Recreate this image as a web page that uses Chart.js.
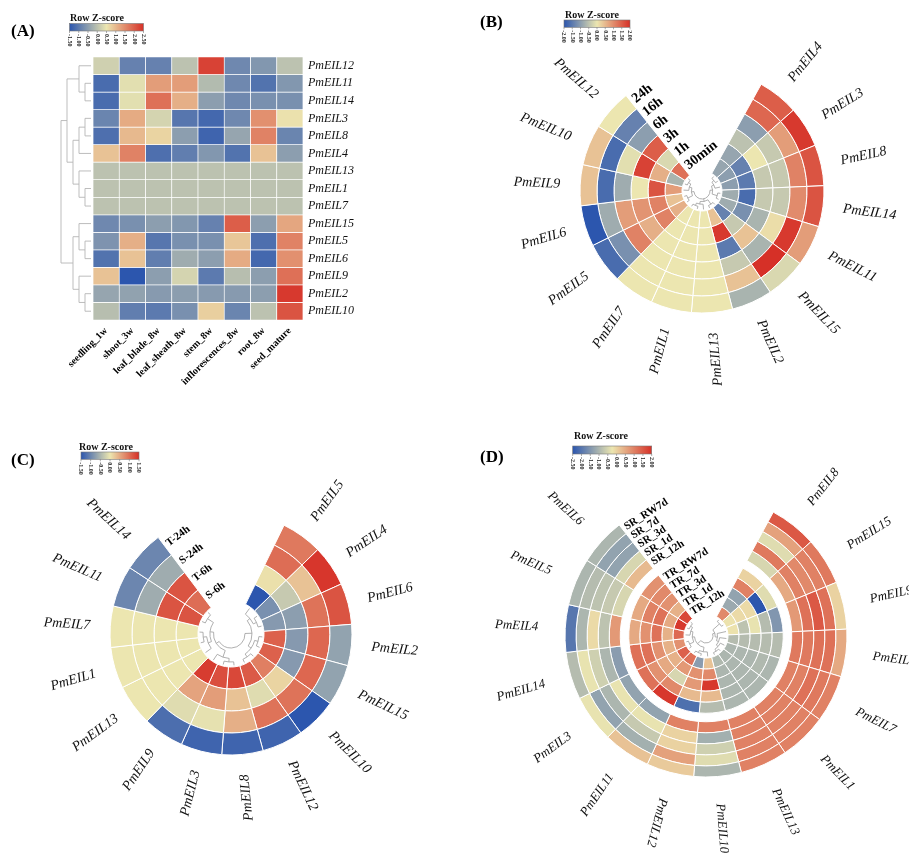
<!DOCTYPE html>
<html>
<head>
<meta charset="utf-8">
<script src="https://cdn.jsdelivr.net/npm/chart.js@4.4.1/dist/chart.umd.min.js"></script>
<style>
  body { margin: 0; background: #fff; }
  #wrap { position: relative; width: 909px; height: 854px; overflow: hidden; }
  canvas { position: absolute; }
</style>
</head>
<body>
<div id="wrap">
  <canvas id="pa" width="470" height="430" style="left:0;top:0"></canvas>
  <canvas id="pb" width="439" height="430" style="left:470px;top:0"></canvas>
  <canvas id="pc" width="470" height="424" style="left:0;top:430px"></canvas>
  <canvas id="pd" width="439" height="424" style="left:470px;top:430px"></canvas>
</div>
<script>
var SERIF = '"Liberation Serif", "Times New Roman", serif';

// ---------- (A) tissues ----------
var aTissues = ['seedling_1w', 'shoot_3w', 'leaf_blade_8w', 'leaf_sheath_8w', 'stem_8w', 'inflorescences_8w', 'root_8w', 'seed_mature'];
var aGenes = ['PmEIL12', 'PmEIL11', 'PmEIL14', 'PmEIL3', 'PmEIL8', 'PmEIL4', 'PmEIL13', 'PmEIL1', 'PmEIL7', 'PmEIL15', 'PmEIL5', 'PmEIL6', 'PmEIL9', 'PmEIL2', 'PmEIL10'];
var aZ = [
  [0.2, -0.9, -0.9, 0.0, 2.3, -0.8, -0.6, 0.0],
  [-1.2, 0.4, 1.3, 1.3, -0.1, -0.8, -1.1, -0.6],
  [-1.2, 0.4, 1.8, 1.1, -0.5, -0.8, -0.7, -0.7],
  [-0.85, 1.15, 0.25, -1.05, -1.25, -0.8, 1.45, 0.55],
  [-1.15, 1.0, 0.7, -0.5, -1.3, -0.4, 1.6, -0.85],
  [0.9, 1.6, -1.15, -0.95, -0.6, -1.1, 0.9, -0.5],
  [0, 0, 0, 0, 0, 0, 0, 0],
  [0, 0, 0, 0, 0, 0, 0, 0],
  [0, 0, 0, 0, 0, 0, 0, 0],
  [-0.8, -0.7, -0.5, -0.6, -0.9, 2.0, -0.5, 1.2],
  [-0.65, 1.1, -1.05, -0.7, -0.7, 0.85, -1.15, 1.6],
  [-1.1, 0.9, -0.95, -0.3, -0.5, 1.15, -1.25, 1.45],
  [0.9, -1.5, -0.5, 0.25, -1.0, -0.05, -0.5, 1.8],
  [-0.4, -0.45, -0.55, -0.5, -0.55, -0.55, -0.5, 2.4],
  [-0.05, -0.95, -1.0, -0.7, 0.75, -0.85, 0.0, 2.1]
];
var aTicks = [-1.5, -1.0, -0.5, 0.0, 0.5, 1.0, 1.5, 2.0, 2.5];
var aTree = [[[0, [1, 2]], [[[3, 4], 5], [6, [7, 8]]]], [[9, [10, 11]], [12, [13, 14]]]];

// ---------- (B) time course ----------
var bGenes = ['PmEIL4', 'PmEIL3', 'PmEIL8', 'PmEIL14', 'PmEIL11', 'PmEIL15', 'PmEIL2', 'PmEIL13', 'PmEIL1', 'PmEIL7', 'PmEIL5', 'PmEIL6', 'PmEIL9', 'PmEIL10', 'PmEIL12'];
var bTimes = ['30min', '1h', '3h', '6h', '16h', '24h'];
var bZ = [
  [-0.9, -0.9, -0.5, -1.0, 1.4, 1.5],
  [-1.0, -1.4, 0.0, -0.4, 0.8, 1.9],
  [-1.0, -1.5, -0.4, -0.4, 1.1, 1.6],
  [-0.8, -1.7, -0.4, -0.4, 1.0, 1.6],
  [-0.8, -1.2, -0.7, 0.1, 1.9, 0.8],
  [-1.4, -0.4, 0.4, -0.7, 2.0, -0.2],
  [0.4, 1.9, -1.5, -0.4, 0.4, -0.7],
  [0, 0, 0, 0, 0, 0],
  [0, 0, 0, 0, 0, 0],
  [0, 0, 0, 0, 0, 0],
  [0.6, 1.1, 0.6, 1.1, -1.2, -1.7],
  [0.4, 1.1, 0.9, 0.8, -0.8, -2.0],
  [0.8, 1.6, 0.0, -0.8, -1.7, 0.4],
  [-0.7, 0.6, 1.8, -0.1, -1.7, 0.4],
  [1.3, -0.2, 1.5, -1.0, -1.4, 0.0]
];
var bTicks = [-2.0, -1.5, -1.0, -0.5, 0.0, 0.5, 1.0, 1.5, 2.0];
var bTree = [[[[0, 1], 2], [3, 4]], [[5, 6], [7, [8, 9]]], [[10, 11], [12, [13, 14]]]];

// ---------- (C) S / T treatments ----------
var cGenes = ['PmEIL5', 'PmEIL4', 'PmEIL6', 'PmEIL2', 'PmEIL15', 'PmEIL10', 'PmEIL12', 'PmEIL8', 'PmEIL3', 'PmEIL9', 'PmEIL13', 'PmEIL1', 'PmEIL7', 'PmEIL11', 'PmEIL14'];
var cConds = ['S-6h', 'T-6h', 'S-24h', 'T-24h'];
var cZ = [
  [-1.5, 0.05, 1.0, 0.9],
  [-0.9, -0.3, 0.3, 1.45],
  [-0.8, -0.75, 0.95, 1.2],
  [1.1, -0.8, 1.05, -0.7],
  [1.1, -0.8, 1.05, -0.7],
  [0.85, 0.15, 0.95, -1.5],
  [1.15, -0.1, 0.95, -1.35],
  [1.3, 0.3, 0.45, -1.35],
  [1.25, 0.6, -0.05, -1.35],
  [1.4, 0.55, -0.1, -1.25],
  [0, 0, 0, 0],
  [0, 0, 0, 0],
  [0, 0, 0, 0],
  [1.2, 1.2, -0.6, -1.0],
  [1.0, 1.2, -0.6, -1.0]
];
var cTicks = [-1.5, -1.0, -0.5, 0.0, 0.5, 1.0, 1.5];
var cTree = [[[0, [1, 2]], [[3, 4], [5, 6]]], [[[7, 8], 9], [[10, [11, 12]], [13, 14]]]];

// ---------- (D) TR / SR ----------
var dGenes = ['PmEIL8', 'PmEIL15', 'PmEIL9', 'PmEIL2', 'PmEIL7', 'PmEIL1', 'PmEIL13', 'PmEIL10', 'PmEIL12', 'PmEIL11', 'PmEIL3', 'PmEIL14', 'PmEIL4', 'PmEIL5', 'PmEIL6'];
var dConds = ['TR_12h', 'TR_1d', 'TR_3d', 'TR_7d', 'TR_RW7d', 'SR_12h', 'SR_1d', 'SR_3d', 'SR_7d', 'SR_RW7d'];
var dZ = [
  [0.9, -1.2, -1.3, 1.0, 0.0, -0.5, 1.1, -0.4, 0.6, 1.5],
  [-0.2, -0.1, -0.1, -2.5, -0.4, 0.5, 1.0, 0.9, 1.0, 1.1],
  [-0.2, -0.8, -0.3, -0.9, -1.5, 0.7, 1.2, 1.5, 1.2, 0.0],
  [-0.9, -0.9, -0.9, -0.9, -0.9, 1.1, 1.1, 1.2, 1.2, 0.5],
  [-1.0, -1.0, -1.0, -0.95, -1.0, 1.0, 1.0, 1.2, 1.1, 1.0],
  [-1.0, -1.0, -1.0, -1.0, -1.0, 1.0, 1.0, 1.0, 1.0, 1.0],
  [-0.95, -1.0, -1.0, -1.0, -1.0, 1.0, 1.0, 1.0, 1.0, 1.0],
  [0.2, 0.9, 1.9, 0.3, -0.9, 1.0, -1.1, -0.6, -0.4, -1.0],
  [-1.4, 0.8, 0.7, 0.3, -2.1, 1.0, 0.0, 0.0, 0.6, 0.1],
  [1.2, 0.7, -0.5, 0.9, 1.9, -1.3, -0.3, -0.7, -1.1, 0.2],
  [1.4, 0.4, 0.5, 0.8, 1.2, -1.3, -0.3, -1.0, -1.3, -0.3],
  [0.8, 0.4, 0.8, 1.2, 1.2, -1.4, -1.0, -0.6, -0.3, -0.9],
  [1.3, 0.4, 1.2, 0.8, 0.5, 0.7, -0.8, -0.1, -1.0, -2.0],
  [1.9, 0.5, 1.2, 1.0, 0.5, -0.5, -0.7, -0.8, -0.9, -1.0],
  [1.7, 0.4, 0.8, 0.9, 0.8, 0.3, -0.5, -1.3, -1.3, -1.0]
];
var dTicks = [-2.5, -2.0, -1.5, -1.0, -0.5, 0.0, 0.5, 1.0, 1.5, 2.0];
var dTree = [[[0, 1], [2, [3, [4, [5, 6]]]]], [[7, [8, 9]], [[10, 11], [12, [13, 14]]]]];

// ---------- colours ----------
var LOW = [44, 86, 174], MID = [236, 230, 176], HIGH = [214, 48, 39];
function zColor(v, min, max) {
  var mid = (min + max) / 2, t, b;
  if (v <= mid) { t = (mid - v) / (mid - min); b = LOW; }
  else { t = (v - mid) / (max - mid); b = HIGH; }
  t = Math.max(0, Math.min(1, t));
  return 'rgb(' + MID.map(function (c, i) { return Math.round(c + (b[i] - c) * t); }).join(',') + ')';
}

Chart.defaults.font.family = SERIF;
Chart.defaults.color = '#000';

function drawLetter(ctx, txt, x, y) {
  ctx.save();
  ctx.font = 'bold 17px ' + SERIF;
  ctx.fillStyle = '#000';
  ctx.textAlign = 'left';
  ctx.textBaseline = 'alphabetic';
  ctx.fillText(txt, x, y);
  ctx.restore();
}

function drawLegend(ctx, L) {
  ctx.save();
  ctx.font = 'bold 10px ' + SERIF;
  ctx.fillStyle = '#111';
  ctx.textAlign = 'left';
  ctx.textBaseline = 'alphabetic';
  ctx.fillText('Row Z-score', L.tx, L.ty);
  var g = ctx.createLinearGradient(L.x, 0, L.x + L.w, 0);
  g.addColorStop(0, zColor(L.min, L.min, L.max));
  g.addColorStop(0.5, zColor((L.min + L.max) / 2, L.min, L.max));
  g.addColorStop(1, zColor(L.max, L.min, L.max));
  ctx.fillStyle = g;
  ctx.fillRect(L.x, L.y, L.w, L.h);
  ctx.strokeStyle = '#777';
  ctx.lineWidth = 0.6;
  ctx.strokeRect(L.x, L.y, L.w, L.h);
  ctx.font = 'bold 6px ' + SERIF;
  ctx.fillStyle = '#222';
  ctx.textBaseline = 'middle';
  L.ticks.forEach(function (v) {
    var x = L.x + (v - L.min) / (L.max - L.min) * L.w;
    ctx.beginPath();
    ctx.moveTo(x, L.y + L.h);
    ctx.lineTo(x, L.y + L.h + 2);
    ctx.stroke();
    ctx.save();
    ctx.translate(x, L.y + L.h + 3);
    ctx.rotate(Math.PI / 2);
    ctx.fillText(v.toFixed(2), 0, 0);
    ctx.restore();
  });
  ctx.restore();
}

function treeHeight(n) {
  if (typeof n === 'number') return 0;
  return 1 + Math.max.apply(null, n.map(treeHeight));
}
function walkTree(n, leafPos, onNode) {
  if (typeof n === 'number') return { t: leafPos(n), h: 0 };
  var kids = n.map(function (c) { return walkTree(c, leafPos, onNode); });
  var h = 1 + Math.max.apply(null, kids.map(function (k) { return k.h; }));
  onNode(kids, h);
  return { t: (kids[0].t + kids[kids.length - 1].t) / 2, h: h };
}

// ---------- (A) heatmap ----------
var aMin = -1.5, aMax = 2.5;
var aDecor = {
  id: 'aDecor',
  afterDraw: function (chart) {
    var ctx = chart.ctx, ys = chart.scales.y, area = chart.chartArea;
    var x0 = area.left - 2, unit = 6;
    ctx.save();
    ctx.strokeStyle = '#b5b5b5';
    ctx.lineWidth = 0.9;
    walkTree(aTree, function (i) { return ys.getPixelForValue(i + 0.5); }, function (kids, h) {
      var x = x0 - h * unit;
      ctx.beginPath();
      kids.forEach(function (k) {
        ctx.moveTo(x0 - k.h * unit, k.t);
        ctx.lineTo(x, k.t);
      });
      ctx.moveTo(x, kids[0].t);
      ctx.lineTo(x, kids[kids.length - 1].t);
      ctx.stroke();
    });
    ctx.restore();
    drawLetter(ctx, '(A)', 11, 36);
    drawLegend(ctx, { tx: 70, ty: 21, x: 69.5, y: 23.5, w: 74, h: 7.5, min: aMin, max: aMax, ticks: aTicks });
  }
};

new Chart(document.getElementById('pa'), {
  type: 'bar',
  data: {
    labels: aTissues,
    datasets: aGenes.map(function (g, i) {
      return {
        label: g,
        data: aTissues.map(function () { return 1; }),
        backgroundColor: aZ[i].map(function (v) { return zColor(v, aMin, aMax); }),
        borderColor: 'rgba(255,255,255,0.95)',
        borderWidth: 0.7,
        borderSkipped: false,
        barPercentage: 1,
        categoryPercentage: 1
      };
    })
  },
  options: {
    responsive: false,
    animation: false,
    events: [],
    layout: { padding: { left: 93, top: 57, right: 107, bottom: 30 } },
    plugins: { legend: { display: false }, tooltip: { enabled: false } },
    scales: {
      x: {
        stacked: true,
        grid: { display: false, drawTicks: false },
        border: { display: false },
        ticks: { autoSkip: false, minRotation: 45, maxRotation: 45, padding: 5, color: '#000', font: { family: SERIF, weight: 'bold', size: 10 } },
        afterFit: function (s) { s.height = 80; }
      },
      y: { stacked: true, min: 0, max: 15, reverse: true, display: false },
      y2: {
        type: 'category',
        labels: aGenes,
        position: 'right',
        offset: true,
        grid: { display: false, drawTicks: false },
        border: { display: false },
        ticks: { autoSkip: false, padding: 5, color: '#111', font: { family: SERIF, style: 'italic', size: 12 } },
        afterFit: function (s) { s.width = 60; }
      }
    }
  },
  plugins: [aDecor]
});

// ---------- circular heatmaps ----------
function ringChart(id, p) {
  var ringW = (p.radius - p.hole - (p.gapSize || 0)) / p.conds.length;
  var datasets = [];
  for (var j = p.conds.length - 1; j >= 0; j--) {
    datasets.push({
      ringName: p.conds[j],
      data: p.genes.map(function () { return 1; }),
      backgroundColor: p.z.map(function (r) { return zColor(r[j], p.min, p.max); }),
      borderColor: '#ffffff',
      borderWidth: 1,
      rotation: p.rotation,
      circumference: p.circumference,
      weight: 1
    });
    if (p.gapAt === j) {
      datasets.push({ data: [1], backgroundColor: 'rgba(0,0,0,0)', borderWidth: 0, rotation: 0, circumference: 360, weight: p.gapSize / ringW });
    }
  }
  datasets.push({ data: [1], backgroundColor: 'rgba(0,0,0,0)', borderWidth: 0, rotation: 0, circumference: 360, weight: p.hole / ringW });

  var cv = document.getElementById(id);
  var s = p.half;
  var decor = {
    id: 'ring_' + id,
    afterDraw: function (chart) {
      var ctx = chart.ctx;
      var rings = [];
      chart.data.datasets.forEach(function (ds, k) { if (ds.ringName) rings.push(k); });
      var outer = chart.getDatasetMeta(rings[0]).data;
      var inner = chart.getDatasetMeta(rings[rings.length - 1]).data;
      ctx.save();
      // gene names
      ctx.font = 'italic ' + p.labelSize + 'px ' + SERIF;
      ctx.fillStyle = '#111';
      ctx.textBaseline = 'middle';
      outer.forEach(function (arc, i) {
        var a = (arc.startAngle + arc.endAngle) / 2;
        var deg = ((a * 180 / Math.PI) + 90 + 720) % 360;
        ctx.save();
        ctx.translate(arc.x + p.labelR * Math.cos(a), arc.y + p.labelR * Math.sin(a));
        if (deg < p.flipAt) { ctx.rotate(a); ctx.textAlign = 'left'; }
        else { ctx.rotate(a + Math.PI); ctx.textAlign = 'right'; }
        ctx.fillText(p.genes[i], 0, 0);
        ctx.restore();
      });
      // condition names in the opening
      ctx.font = 'bold ' + p.condSize + 'px ' + SERIF;
      ctx.fillStyle = '#000';
      ctx.textAlign = 'left';
      rings.forEach(function (k) {
        var arcs = chart.getDatasetMeta(k).data;
        var last = arcs[arcs.length - 1];
        var r = (last.innerRadius + last.outerRadius) / 2;
        var e = last.endAngle;
        ctx.save();
        ctx.translate(last.x + r * Math.cos(e), last.y + r * Math.sin(e));
        ctx.rotate(e + Math.PI / 2 + (p.condTilt || 0));
        ctx.fillText(chart.data.datasets[k].ringName, 3, 0);
        ctx.restore();
      });
      // dendrogram
      var cx = inner[0].x, cy = inner[0].y;
      var leafR = inner[0].innerRadius - 1.5;
      var unit = (leafR - p.coreR) / treeHeight(p.tree);
      ctx.strokeStyle = '#9c9c9c';
      ctx.lineWidth = 0.8;
      walkTree(p.tree, function (i) { return (inner[i].startAngle + inner[i].endAngle) / 2; }, function (kids, h) {
        var r = leafR - h * unit;
        ctx.beginPath();
        kids.forEach(function (k) {
          var rk = leafR - k.h * unit;
          ctx.moveTo(cx + rk * Math.cos(k.t), cy + rk * Math.sin(k.t));
          ctx.lineTo(cx + r * Math.cos(k.t), cy + r * Math.sin(k.t));
        });
        ctx.stroke();
        ctx.beginPath();
        ctx.arc(cx, cy, r, kids[0].t, kids[kids.length - 1].t, false);
        ctx.stroke();
      });
      ctx.restore();
      drawLetter(ctx, p.letter, p.letterX, p.letterY);
      drawLegend(ctx, p.legend);
    }
  };

  return new Chart(cv, {
    type: 'doughnut',
    data: { labels: p.genes, datasets: datasets },
    options: {
      responsive: false,
      animation: false,
      events: [],
      cutout: 0,
      radius: p.radius,
      layout: { padding: { left: p.cx - s, right: cv.width - p.cx - s, top: p.cy - s, bottom: cv.height - p.cy - s } },
      plugins: { legend: { display: false }, tooltip: { enabled: false } }
    },
    plugins: [decor]
  });
}

ringChart('pb', {
  genes: bGenes, conds: bTimes, z: bZ, min: -2, max: 2, tree: bTree,
  rotation: 29, circumference: 292.5, radius: 122, hole: 20, cx: 232, cy: 191, half: 150,
  labelR: 142, labelSize: 14, flipAt: 170, condSize: 14, coreR: 8,
  letter: '(B)', letterX: 10, letterY: 27,
  legend: { tx: 95, ty: 17.5, x: 94, y: 20, w: 66, h: 7.3, min: -2, max: 2, ticks: bTicks }
});

ringChart('pc', {
  genes: cGenes, conds: cConds, z: cZ, min: -1.5, max: 1.5, tree: cTree,
  rotation: 26, circumference: 297, radius: 121, hole: 33, cx: 231, cy: 204, half: 150,
  labelR: 141, labelSize: 14, flipAt: 170, condSize: 11, coreR: 14,
  letter: '(C)', letterX: 11, letterY: 35,
  legend: { tx: 79, ty: 19.5, x: 81, y: 22, w: 58, h: 7.3, min: -1.5, max: 1.5, ticks: cTicks }
});

ringChart('pd', {
  genes: dGenes, conds: dConds, z: dZ, min: -2.5, max: 2, tree: dTree,
  rotation: 28.5, circumference: 293.5, radius: 141, hole: 22, gapAt: 5, gapSize: 8.5, cx: 236, cy: 206, half: 165,
  labelR: 168, labelSize: 13, flipAt: 205, condSize: 11, coreR: 7, condTilt: 0.1,
  letter: '(D)', letterX: 10, letterY: 32,
  legend: { tx: 104, ty: 9, x: 102.7, y: 16, w: 79, h: 8, min: -2.5, max: 2, ticks: dTicks }
});
</script>
</body>
</html>
